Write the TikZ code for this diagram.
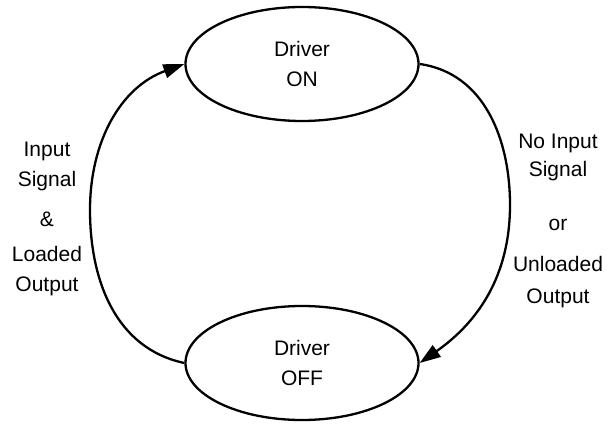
\documentclass[tikz,border=0pt]{standalone}
\usepackage{fontspec}
\setmainfont{Liberation Sans}
\usetikzlibrary{arrows.meta,shapes.geometric}

\begin{document}
\begin{tikzpicture}[x=1pt,y=1pt,line width=2.3pt,
  state/.style={draw,ellipse,minimum width=233pt,minimum height=114pt,inner sep=0pt,align=center},
  >={Triangle[length=21pt,width=14pt]},
  font=\fontsize{21}{30}\selectfont]
\useasboundingbox (0,0) rectangle (615,423);
\node[state] (on) at (302,359) {Driver\\ON};
\node[state] (off) at (302,60) {Driver\\OFF};
\coordinate (lmid) at (90,213);
\coordinate (rmid) at (510,218);
\node[align=center] (up) at (47,204) {Input\\Signal\\[10pt]\&\\[5pt]Loaded\\Output};
\node[align=center] (down) at (558,202) {No Input\\[-2pt]Signal\\[24pt]or\\[11pt]Unloaded\\[2pt]Output};
\draw[->] (off.west) to[out=168,in=-90] (lmid) to[out=90,in=200] (on.west);
\draw[->] (on.east) to[out=-8,in=90] (rmid) to[out=-90,in=35] (off.east);
\end{tikzpicture}
\end{document}
